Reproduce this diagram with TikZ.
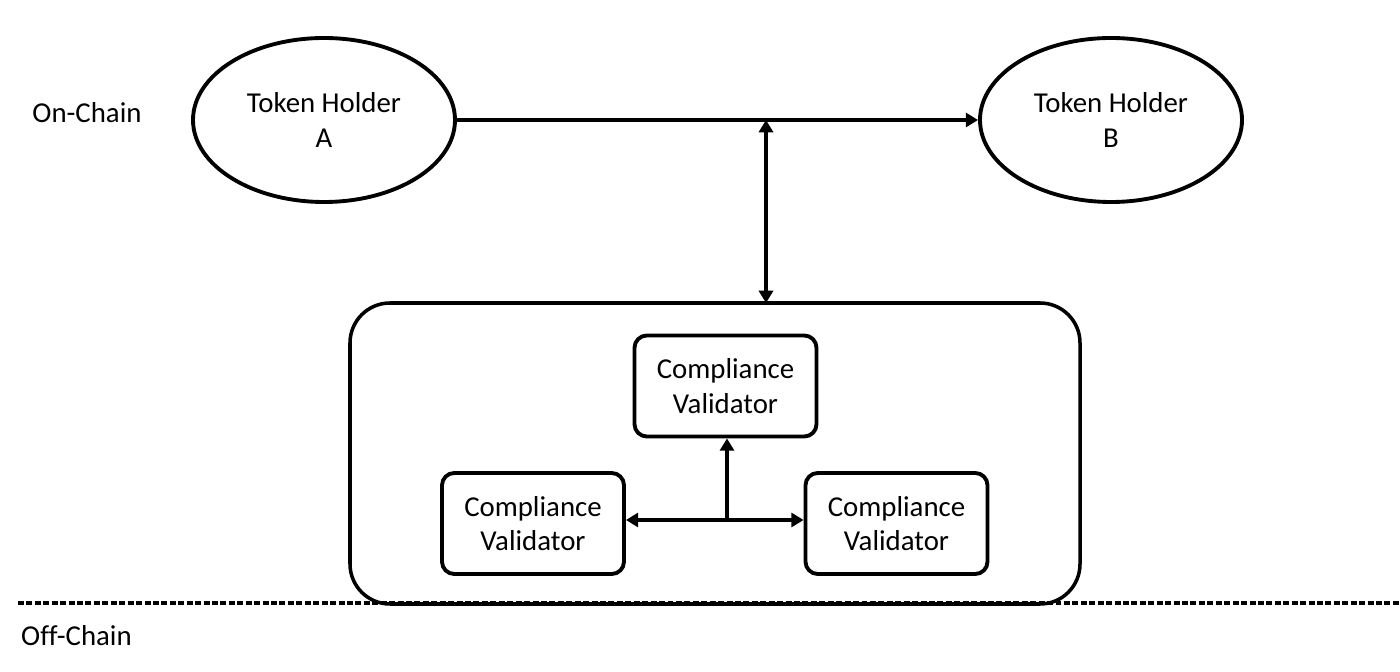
\documentclass[tikz,border=0pt]{standalone}
\usepackage{fontspec}
\setmainfont{Carlito}[Ligatures=NoCommon]
\usetikzlibrary{arrows.meta, shapes.geometric}

\begin{document}
\begin{tikzpicture}[
    every node/.style={font=\fontsize{16.4}{19.8}\selectfont, align=center},
    holder/.style={ellipse, draw, line width=2.2pt, minimum width=5.24cm, minimum height=3.28cm, inner sep=0pt},
    validator/.style={draw, line width=2.2pt, rounded corners=7pt, minimum width=3.64cm, minimum height=2.02cm, inner sep=0pt},
    link/.style={line width=2.2pt, -{Triangle[length=7pt,width=8pt]}},
    twoway/.style={line width=2.2pt, {Triangle[length=7pt,width=8pt]}-{Triangle[length=7pt,width=8pt]}}]
    \useasboundingbox (0,0) rectangle (28,13.42);
    % on-chain part
    \node (on) at (1.74,11.16) {On-Chain};
    \node[holder] (ha) at (6.48,11.02) {Token Holder\\A};
    \node[holder] (hb) at (22.22,11.02) {Token Holder\\B};
    \draw[link] (ha) -- (hb);
    % off-chain part
    \node[draw, line width=2pt, rounded corners=0.8cm, minimum width=14.6cm, minimum height=6.02cm] (pool) at (14.3,4.35) {};
    \node[validator] (cvt) at (14.51,5.7) {Compliance\\Validator};
    \node[validator] (cvl) at (10.66,2.95) {Compliance\\Validator};
    \node[validator] (cvr) at (17.93,2.95) {Compliance\\Validator};
    \coordinate (tap) at (15.32,11.02);
    \coordinate (dock) at (15.32,7.36);
    \coordinate (hub) at (14.54,3.02);
    \draw[twoway] (tap) -- (dock);
    \draw[twoway] (cvl.east |- hub) -- (cvr.west |- hub);
    \draw[link] (hub) -- (hub |- cvt.south);
    % boundary
    \coordinate (cutl) at (0.36,1.36);
    \coordinate (cutr) at (28,1.36);
    \draw[line width=2pt, dash pattern=on 3.4pt off 1.4pt] (cutl) -- (cutr);
    \node[anchor=west] (off) at (0.3,0.7) {Off-Chain};
\end{tikzpicture}
\end{document}
